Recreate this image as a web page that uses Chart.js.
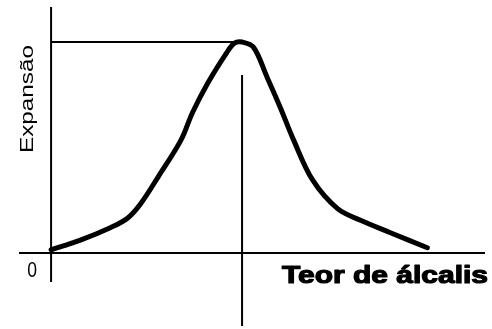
<!DOCTYPE html>
<html>
<head>
<meta charset="utf-8">
<script src="https://cdn.jsdelivr.net/npm/chart.js@4/dist/chart.umd.min.js"></script>
<style>
  html, body { margin: 0; padding: 0; background: #fff; }
  canvas { display: block; }
</style>
</head>
<body>
<canvas id="c" width="492" height="329"></canvas>
<script>
// Expansion vs. alkali content (relative units, peak expansion = 100)
const alkaliContent = [0, 7.5, 15.5, 20, 23.5, 28, 34, 37, 41, 46, 48, 50, 53, 56.5, 60, 63.5, 68.5, 75, 81, 89, 98.5];
const expansion     = [1.5, 6, 12, 16.5, 23.5, 36, 53.5, 66.5, 80.5, 95, 99.5, 100, 97.5, 83.5, 69, 53.5, 34.5, 21, 15.5, 9.5, 2.5];

// Axis extents (same units as the data)
const xAxisRange = [-8.4, 113.6];
const yAxisRange = [-13.7, 116.6];
const scaleX = [-8.4, 113.6];
const scaleY = [-34.6, 116.6];
const peakDropTop = 84.4;

const xLabel = 'Teor de álcalis';
const yLabel = 'Expansão';
const originLabel = '0';

// Peak of the curve, used for the guide lines
const peakY = Math.max(...expansion);
const peakX = alkaliContent[expansion.indexOf(peakY)];

const curve = alkaliContent.map((x, i) => ({ x, y: expansion[i] }));

function lineSet(points, width) {
  return {
    data: points, showLine: true, borderColor: '#000', borderWidth: width,
    pointRadius: 0, fill: false, clip: false, tension: 0
  };
}

const labelsPlugin = {
  id: 'axisTexts',
  afterDraw(chart) {
    const ctx = chart.ctx;
    const xs = chart.scales.x, ys = chart.scales.y;
    const x0 = xs.getPixelForValue(0), y0 = ys.getPixelForValue(0);
    ctx.save();
    ctx.fillStyle = '#000';

    // origin
    ctx.font = '22px "Liberation Sans", Arial, sans-serif';
    ctx.textAlign = 'center';
    ctx.textBaseline = 'middle';
    ctx.save();
    ctx.translate(x0 - 19, y0 + 18);
    ctx.scale(0.8, 1);
    ctx.fillText(originLabel, 0, 0);
    ctx.restore();

    // x-axis title, heavy bold, stretched
    ctx.font = 'bold 24px "Liberation Sans", Arial, sans-serif';
    ctx.textAlign = 'left';
    ctx.textBaseline = 'alphabetic';
    const wx = ctx.measureText(xLabel).width;
    ctx.save();
    ctx.translate(282, y0 + 30);
    ctx.scale(206 / wx, 1);
    ctx.strokeStyle = '#000';
    ctx.lineWidth = 1.2;
    ctx.lineJoin = 'round';
    ctx.strokeText(xLabel, 0, 0);
    ctx.fillText(xLabel, 0, 0);
    ctx.restore();

    // y-axis title, rotated and stretched
    ctx.font = '18px "Liberation Sans", Arial, sans-serif';
    ctx.textAlign = 'center';
    ctx.textBaseline = 'alphabetic';
    const wy = ctx.measureText(yLabel).width;
    ctx.save();
    ctx.translate(33, 99);
    ctx.rotate(-Math.PI / 2);
    ctx.scale(108 / wy, 1);
    ctx.fillText(yLabel, 0, 0);
    ctx.restore();

    ctx.restore();
  }
};

new Chart(document.getElementById('c'), {
  type: 'scatter',
  data: {
    datasets: [
      lineSet([{ x: xAxisRange[0], y: 0 }, { x: xAxisRange[1], y: 0 }], 2),
      lineSet([{ x: 0, y: yAxisRange[0] }, { x: 0, y: yAxisRange[1] }], 2),
      lineSet([{ x: 0, y: peakY }, { x: peakX, y: peakY }], 2),
      lineSet([{ x: peakX, y: peakDropTop }, { x: peakX, y: scaleY[0] }], 2),
      Object.assign(lineSet(curve, 5), { tension: 0.35, borderJoinStyle: 'round', borderCapStyle: 'round' })
    ]
  },
  options: {
    responsive: false,
    animation: false,
    events: [],
    layout: { padding: { left: 19, right: 7, top: 7, bottom: 3 } },
    plugins: { legend: { display: false }, tooltip: { enabled: false } },
    scales: {
      x: { type: 'linear', display: false, min: scaleX[0], max: scaleX[1] },
      y: { type: 'linear', display: false, min: scaleY[0], max: scaleY[1] }
    }
  },
  plugins: [labelsPlugin]
});
</script>
</body>
</html>
